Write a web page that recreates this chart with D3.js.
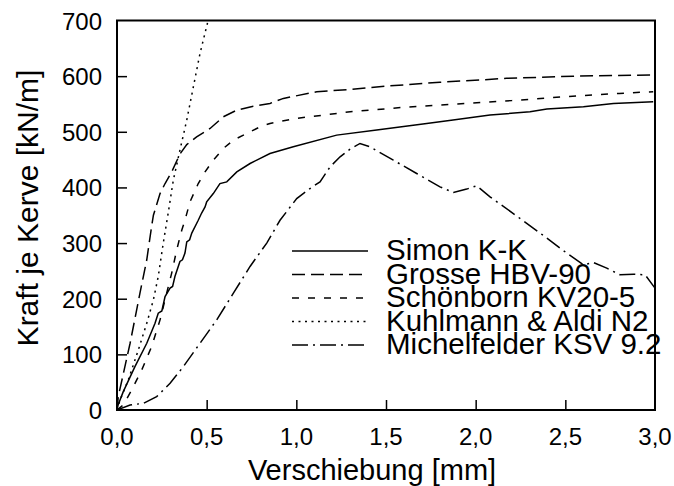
<!DOCTYPE html>
<html>
<head>
<meta charset="utf-8">
<script src="https://cdn.jsdelivr.net/npm/d3@7/dist/d3.min.js"></script>
<style>
  html, body { margin: 0; padding: 0; background: #fff; }
  svg { display: block; }
  text { font-family: "Liberation Sans", Arial, Helvetica, sans-serif; fill: #000; }
</style>
</head>
<body>
<svg id="chart" width="674" height="486"></svg>
<script>
// Load-slip curves of notched timber-concrete connections (force per notch vs. slip)
const xTicks = [0, 0.5, 1.0, 1.5, 2.0, 2.5, 3.0];
const xTickLabels = ["0,0", "0,5", "1,0", "1,5", "2,0", "2,5", "3,0"];
const yTicks = [0, 100, 200, 300, 400, 500, 600, 700];
const yTickLabels = ["0", "100", "200", "300", "400", "500", "600", "700"];

const seriesNames = ["Simon K-K", "Grosse HBV-90", "Schönborn KV20-5", "Kuhlmann & Aldi N2", "Michelfelder KSV 9.2"];

// [slip mm, force kN/m]
const simonKK = [
  [0, 0], [0.005, 8], [0.035, 33], [0.10, 78], [0.166, 120], [0.212, 156], [0.23, 174],
  [0.25, 178], [0.268, 204], [0.296, 219], [0.31, 222], [0.323, 240], [0.351, 267],
  [0.365, 270], [0.379, 282], [0.389, 302], [0.405, 306], [0.417, 318], [0.453, 341],
  [0.472, 354], [0.491, 365], [0.50, 374], [0.537, 389], [0.574, 407], [0.612, 410],
  [0.668, 428], [0.742, 443], [0.853, 461], [0.983, 473], [1.225, 494], [1.448, 503],
  [1.727, 515], [1.874, 521], [2.08, 530], [2.303, 536], [2.397, 541], [2.601, 545],
  [2.768, 551], [2.99, 554]
];
const grosseHBV90 = [
  [0, 0], [0.007, 24], [0.073, 120], [0.128, 210], [0.166, 270], [0.193, 330],
  [0.203, 350], [0.24, 389], [0.268, 407], [0.305, 428], [0.351, 460], [0.389, 477],
  [0.444, 491], [0.519, 506], [0.593, 527], [0.668, 539], [0.76, 546], [0.853, 551],
  [0.928, 560], [1.114, 572], [1.30, 576], [1.5, 582], [1.801, 589], [2.173, 596],
  [2.545, 600], [2.99, 602]
];
const schoenbornKV205 = [
  [0, 0], [0.035, 9], [0.082, 36], [0.138, 72], [0.193, 114], [0.24, 162], [0.277, 210],
  [0.305, 246], [0.333, 288], [0.361, 323], [0.379, 341], [0.407, 374], [0.453, 407],
  [0.491, 428], [0.537, 449], [0.593, 470], [0.649, 485], [0.723, 497], [0.798, 509],
  [0.853, 515], [1.0, 524], [1.3, 536], [1.6, 544], [1.9, 550], [2.2, 556], [2.5, 563],
  [2.8, 569], [2.99, 572]
];
const kuhlmannAldiN2 = [
  [0, 0], [0.017, 18], [0.063, 54], [0.119, 108], [0.166, 156], [0.203, 198], [0.23, 240],
  [0.258, 300], [0.286, 355], [0.314, 413], [0.351, 467], [0.389, 521], [0.426, 581],
  [0.463, 641], [0.508, 700]
];
const michelfelderKSV92 = [
  [0, 0], [0.073, 9], [0.147, 12], [0.221, 24], [0.296, 48], [0.37, 78], [0.463, 120],
  [0.556, 162], [0.649, 210], [0.742, 258], [0.835, 300], [0.909, 341], [1.002, 380],
  [1.076, 398], [1.132, 410], [1.188, 437], [1.244, 455], [1.30, 469], [1.355, 479],
  [1.411, 473], [1.541, 449], [1.671, 425], [1.801, 401], [1.876, 391], [1.95, 397],
  [2.006, 403], [2.08, 383], [2.21, 353], [2.359, 318], [2.508, 282], [2.601, 261],
  [2.657, 265], [2.731, 255], [2.805, 243], [2.88, 244], [2.945, 243], [3.0, 219]
];

const seriesData = [simonKK, grosseHBV90, schoenbornKV205, kuhlmannAldiN2, michelfelderKSV92];
const dashPatterns = ["none", "13,6", "7,9", "2,4.5", "16,5,2,5"];

const svg = d3.select("#chart");
const margin = { left: 117, top: 20.5, right: 674 - 655, bottom: 486 - 410 };
const W = 674, H = 486;

const x = d3.scaleLinear().domain([0, 3]).range([margin.left, W - margin.right]);
const y = d3.scaleLinear().domain([0, 700]).range([H - margin.bottom, margin.top]);

// clip to plot area
svg.append("defs").append("clipPath").attr("id", "plotClip")
  .append("rect")
  .attr("x", x(0)).attr("y", y(700))
  .attr("width", x(3) - x(0)).attr("height", y(0) - y(700));

// curves
const line = d3.line().x(d => x(d[0])).y(d => y(d[1]));
const curves = svg.append("g").attr("clip-path", "url(#plotClip)");
seriesData.forEach((s, i) => {
  curves.append("path")
    .datum(s)
    .attr("d", line)
    .attr("fill", "none")
    .attr("stroke", "#000")
    .attr("stroke-width", 1.5)
    .attr("stroke-dasharray", dashPatterns[i]);
});

// axes with inward ticks
const xAxis = d3.axisBottom(x).tickValues(xTicks.slice(1, -1)).tickSize(-10).tickFormat("");
const yAxis = d3.axisLeft(y).tickValues(yTicks.slice(1, -1)).tickSize(-10).tickFormat("");
svg.append("g").attr("transform", `translate(0,${y(0)})`).call(xAxis)
  .call(g => g.select(".domain").remove())
  .call(g => g.selectAll("line").attr("stroke", "#000").attr("stroke-width", 1.5));
svg.append("g").attr("transform", `translate(${x(0)},0)`).call(yAxis)
  .call(g => g.select(".domain").remove())
  .call(g => g.selectAll("line").attr("stroke", "#000").attr("stroke-width", 1.5));

// frame
svg.append("rect")
  .attr("x", x(0)).attr("y", y(700))
  .attr("width", x(3) - x(0)).attr("height", y(0) - y(700))
  .attr("fill", "none").attr("stroke", "#000").attr("stroke-width", 2);

// tick labels
svg.append("g").selectAll("text").data(xTicks).join("text")
  .attr("x", d => x(d)).attr("y", 445)
  .attr("text-anchor", "middle").attr("font-size", 24)
  .text((d, i) => xTickLabels[i]);
svg.append("g").selectAll("text").data(yTicks).join("text")
  .attr("x", 102).attr("y", d => y(d) + 9)
  .attr("text-anchor", "end").attr("font-size", 24)
  .text((d, i) => yTickLabels[i]);

// axis titles
svg.append("text")
  .attr("x", 372).attr("y", 480)
  .attr("text-anchor", "middle").attr("font-size", 29)
  .text("Verschiebung [mm]");
svg.append("text")
  .attr("transform", "translate(38,208) rotate(-90)")
  .attr("text-anchor", "middle").attr("font-size", 30)
  .text("Kraft je Kerve [kN/m]");

// legend
const legend = svg.append("g");
seriesNames.forEach((name, i) => {
  const ly = 251 + i * 23.5;
  legend.append("line")
    .attr("x1", 292).attr("x2", 368).attr("y1", ly).attr("y2", ly)
    .attr("stroke", "#000").attr("stroke-width", 1.5)
    .attr("stroke-dasharray", dashPatterns[i]);
  legend.append("text")
    .attr("x", 386).attr("y", ly + 9)
    .attr("font-size", 29.5)
    .text(name);
});
</script>
</body>
</html>
